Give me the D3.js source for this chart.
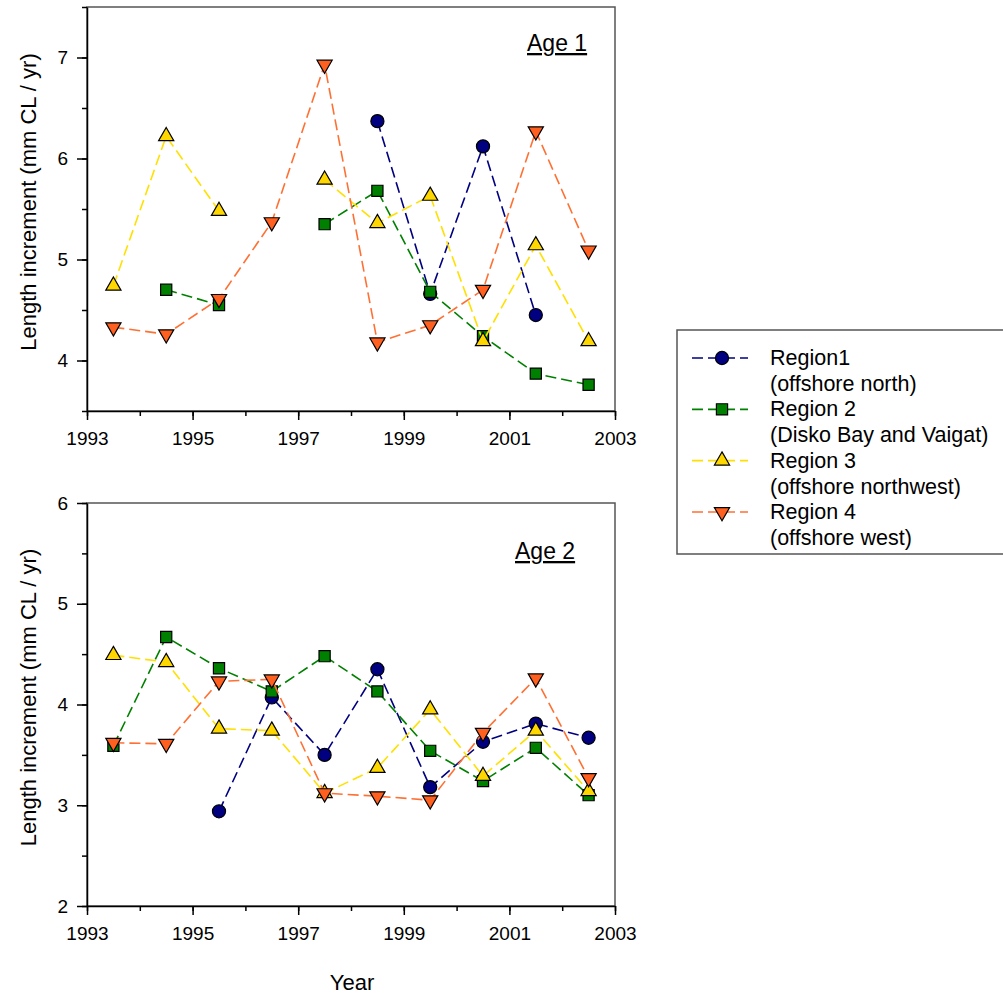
<!DOCTYPE html>
<html>
<head>
<meta charset="utf-8">
<script src="https://cdn.jsdelivr.net/npm/d3@7"></script>
<style>
	body { margin: 0; background: #fff; }
	svg text { font-family: "Liberation Sans", Arial, sans-serif; fill: #000; }
	.axis path, .axis line { stroke: #000; stroke-width: 1.5; }
	.frame { fill: none; stroke: #555; stroke-width: 1.5; }
</style>
</head>
<body>
<svg id="chart" width="1003" height="995"></svg>
<script>
// years are plotted at mid-year
var years = [1993.5, 1994.5, 1995.5, 1996.5, 1997.5, 1998.5, 1999.5, 2000.5, 2001.5, 2002.5];
var xTicks = [1993, 1995, 1997, 1999, 2001, 2003];

var regionNames = ["Region1", "Region 2", "Region 3", "Region 4"];
var regionSubs = ["(offshore north)", "(Disko Bay and Vaigat)", "(offshore northwest)", "(offshore west)"];
var lineColors = ["#000080", "#008000", "#ffe000", "#ff7033"];
var markerColors = ["#000080", "#008000", "#ffd700", "#ff6020"];

// age 1
var age1Region1 = [null, null, null, null, null, 6.37, 4.66, 6.12, 4.45, null];
var age1Region2 = [null, 4.70, 4.55, null, 5.35, 5.68, 4.68, 4.24, 3.87, 3.76];
var age1Region3 = [4.74, 6.22, 5.48, null, 5.79, 5.36, 5.63, 4.19, 5.14, 4.19];
var age1Region4 = [4.33, 4.26, 4.61, 5.37, 6.93, 4.18, 4.35, 4.70, 6.27, 5.09];

// age 2
var age2Region1 = [null, null, 2.94, 4.07, 3.50, 4.35, 3.18, 3.63, 3.81, 3.67];
var age2Region2 = [3.59, 4.67, 4.36, 4.13, 4.48, 4.13, 3.54, 3.24, 3.57, 3.10];
var age2Region3 = [4.49, 4.42, 3.76, 3.74, 3.12, 3.37, 3.95, 3.29, 3.74, 3.14];
var age2Region4 = [3.62, 3.61, 4.23, 4.25, 3.12, 3.09, 3.05, 3.72, 4.26, 3.27];

var chart = {
	symbols : [d3.symbolCircle, d3.symbolSquare, d3.symbolTriangle, d3.symbolTriangle],
	sizes : [135, 125, 100, 100],
	rotations : [0, 0, 0, 180],

	marker : function (g, i, x, y)
	{
		g.append("path")
		.attr("d", d3.symbol().type(this.symbols[i]).size(this.sizes[i])())
		.attr("transform", "translate(" + x + "," + y + ") rotate(" + this.rotations[i] + ")")
		.attr("fill", markerColors[i])
		.attr("stroke", "#000")
		.attr("stroke-width", 1.2);
	},

	renderPanel : function (cfg)
	{
		var svg = d3.select("svg#chart");
		var left = 87, right = 615;

		var x = d3.scaleLinear().domain([1993, 2003]).range([left, right]);
		var y = d3.scaleLinear().domain(cfg.domain).range([cfg.bottom, cfg.top]);

		var panel = svg.append("g").classed("panel", true);

		// frame (top and right sides)
		panel.append("rect")
		.classed("frame", true)
		.attr("x", left)
		.attr("y", cfg.top)
		.attr("width", right - left)
		.attr("height", cfg.bottom - cfg.top);

		var yMajor = d3.range(Math.ceil(cfg.domain[0]), cfg.domain[1] + 0.01, 1);
		var yMinor = d3.range(cfg.domain[0], cfg.domain[1] + 0.01, 0.5);

		panel.append("g")
		.attr("class", "axis")
		.attr("transform", "translate(" + left + ",0)")
		.call(d3.axisLeft(y).tickValues(yMinor).tickSize(5).tickFormat(""))
		.select(".domain").remove();

		var yAxis = panel.append("g")
		.attr("class", "axis")
		.attr("transform", "translate(" + left + ",0)")
		.call(d3.axisLeft(y).tickValues(yMajor).tickSize(10).tickPadding(9).tickSizeOuter(0).tickFormat(d3.format("d")));
		yAxis.selectAll("text").style("font-size", "19px");

		panel.append("g")
		.attr("class", "axis")
		.attr("transform", "translate(0," + cfg.bottom + ")")
		.call(d3.axisBottom(x).tickValues(d3.range(1993, 2004)).tickSize(5).tickFormat(""))
		.select(".domain").remove();

		var xAxis = panel.append("g")
		.attr("class", "axis")
		.attr("transform", "translate(0," + cfg.bottom + ")")
		.call(d3.axisBottom(x).tickValues(xTicks).tickSize(9).tickPadding(12).tickSizeOuter(0).tickFormat(d3.format("d")));
		xAxis.selectAll("text").style("font-size", "19px");

		// y title
		panel.append("text")
		.text("Length increment (mm CL / yr)")
		.attr("text-anchor", "middle")
		.style("font-size", "22px")
		.attr("transform", "translate(36," + ((cfg.top + cfg.bottom) / 2 - 7) + ") rotate(-90)");

		// age label, underlined
		panel.append("text")
		.text(cfg.label)
		.attr("x", cfg.labelX)
		.attr("y", cfg.labelY)
		.style("font-size", "23px")
		.style("text-decoration", "underline");

		var line = d3.line()
		.defined(function (d) { return d.v !== null; })
		.x(function (d) { return x(d.year); })
		.y(function (d) { return y(d.v); });

		cfg.series.forEach(function (values, i) {
			var pts = years.map(function (yr, k) { return {year : yr, v : values[k]}; });

			panel.append("path")
			.datum(pts)
			.attr("d", line)
			.attr("fill", "none")
			.attr("stroke", lineColors[i])
			.attr("stroke-width", 1.6)
			.attr("stroke-dasharray", "11,5");

			var mg = panel.append("g");
			pts.forEach(function (d) {
				if (d.v === null) return;
				this.marker(mg, i, x(d.year), y(d.v));
			}, this);
		}, this);
	},

	renderLegend : function ()
	{
		var svg = d3.select("svg#chart");
		var lg = svg.append("g").classed("legend", true);

		lg.append("rect")
		.attr("x", 677)
		.attr("y", 330)
		.attr("width", 340)
		.attr("height", 224)
		.attr("fill", "none")
		.attr("stroke", "#555")
		.attr("stroke-width", 1.5);

		var rowY = d3.scalePoint().domain(d3.range(4)).range([358, 512]);

		regionNames.forEach(function (name, i) {
			var yy = rowY(i);
			lg.append("line")
			.attr("x1", 692).attr("x2", 748)
			.attr("y1", yy).attr("y2", yy)
			.attr("stroke", lineColors[i])
			.attr("stroke-width", 1.6)
			.attr("stroke-dasharray", "11,5");
			this.marker(lg, i, 722, yy);

			lg.append("text")
			.text(name)
			.attr("x", 770)
			.attr("y", yy + 7)
			.style("font-size", "21.5px");
			lg.append("text")
			.text(regionSubs[i])
			.attr("x", 770)
			.attr("y", yy + 33)
			.style("font-size", "21.5px");
		}, this);
	},

	init : function ()
	{
		this.renderPanel({
			top : 7, bottom : 411, domain : [3.5, 7.5],
			label : "Age 1", labelX : 527, labelY : 51,
			series : [age1Region1, age1Region2, age1Region3, age1Region4]
		});
		this.renderPanel({
			top : 503, bottom : 906, domain : [2, 6],
			label : "Age 2", labelX : 515, labelY : 559,
			series : [age2Region1, age2Region2, age2Region3, age2Region4]
		});
		this.renderLegend();

		d3.select("svg#chart").append("text")
		.text("Year")
		.attr("x", 352)
		.attr("y", 990)
		.attr("text-anchor", "middle")
		.style("font-size", "22px");
	}
};

chart.init();
</script>
</body>
</html>
